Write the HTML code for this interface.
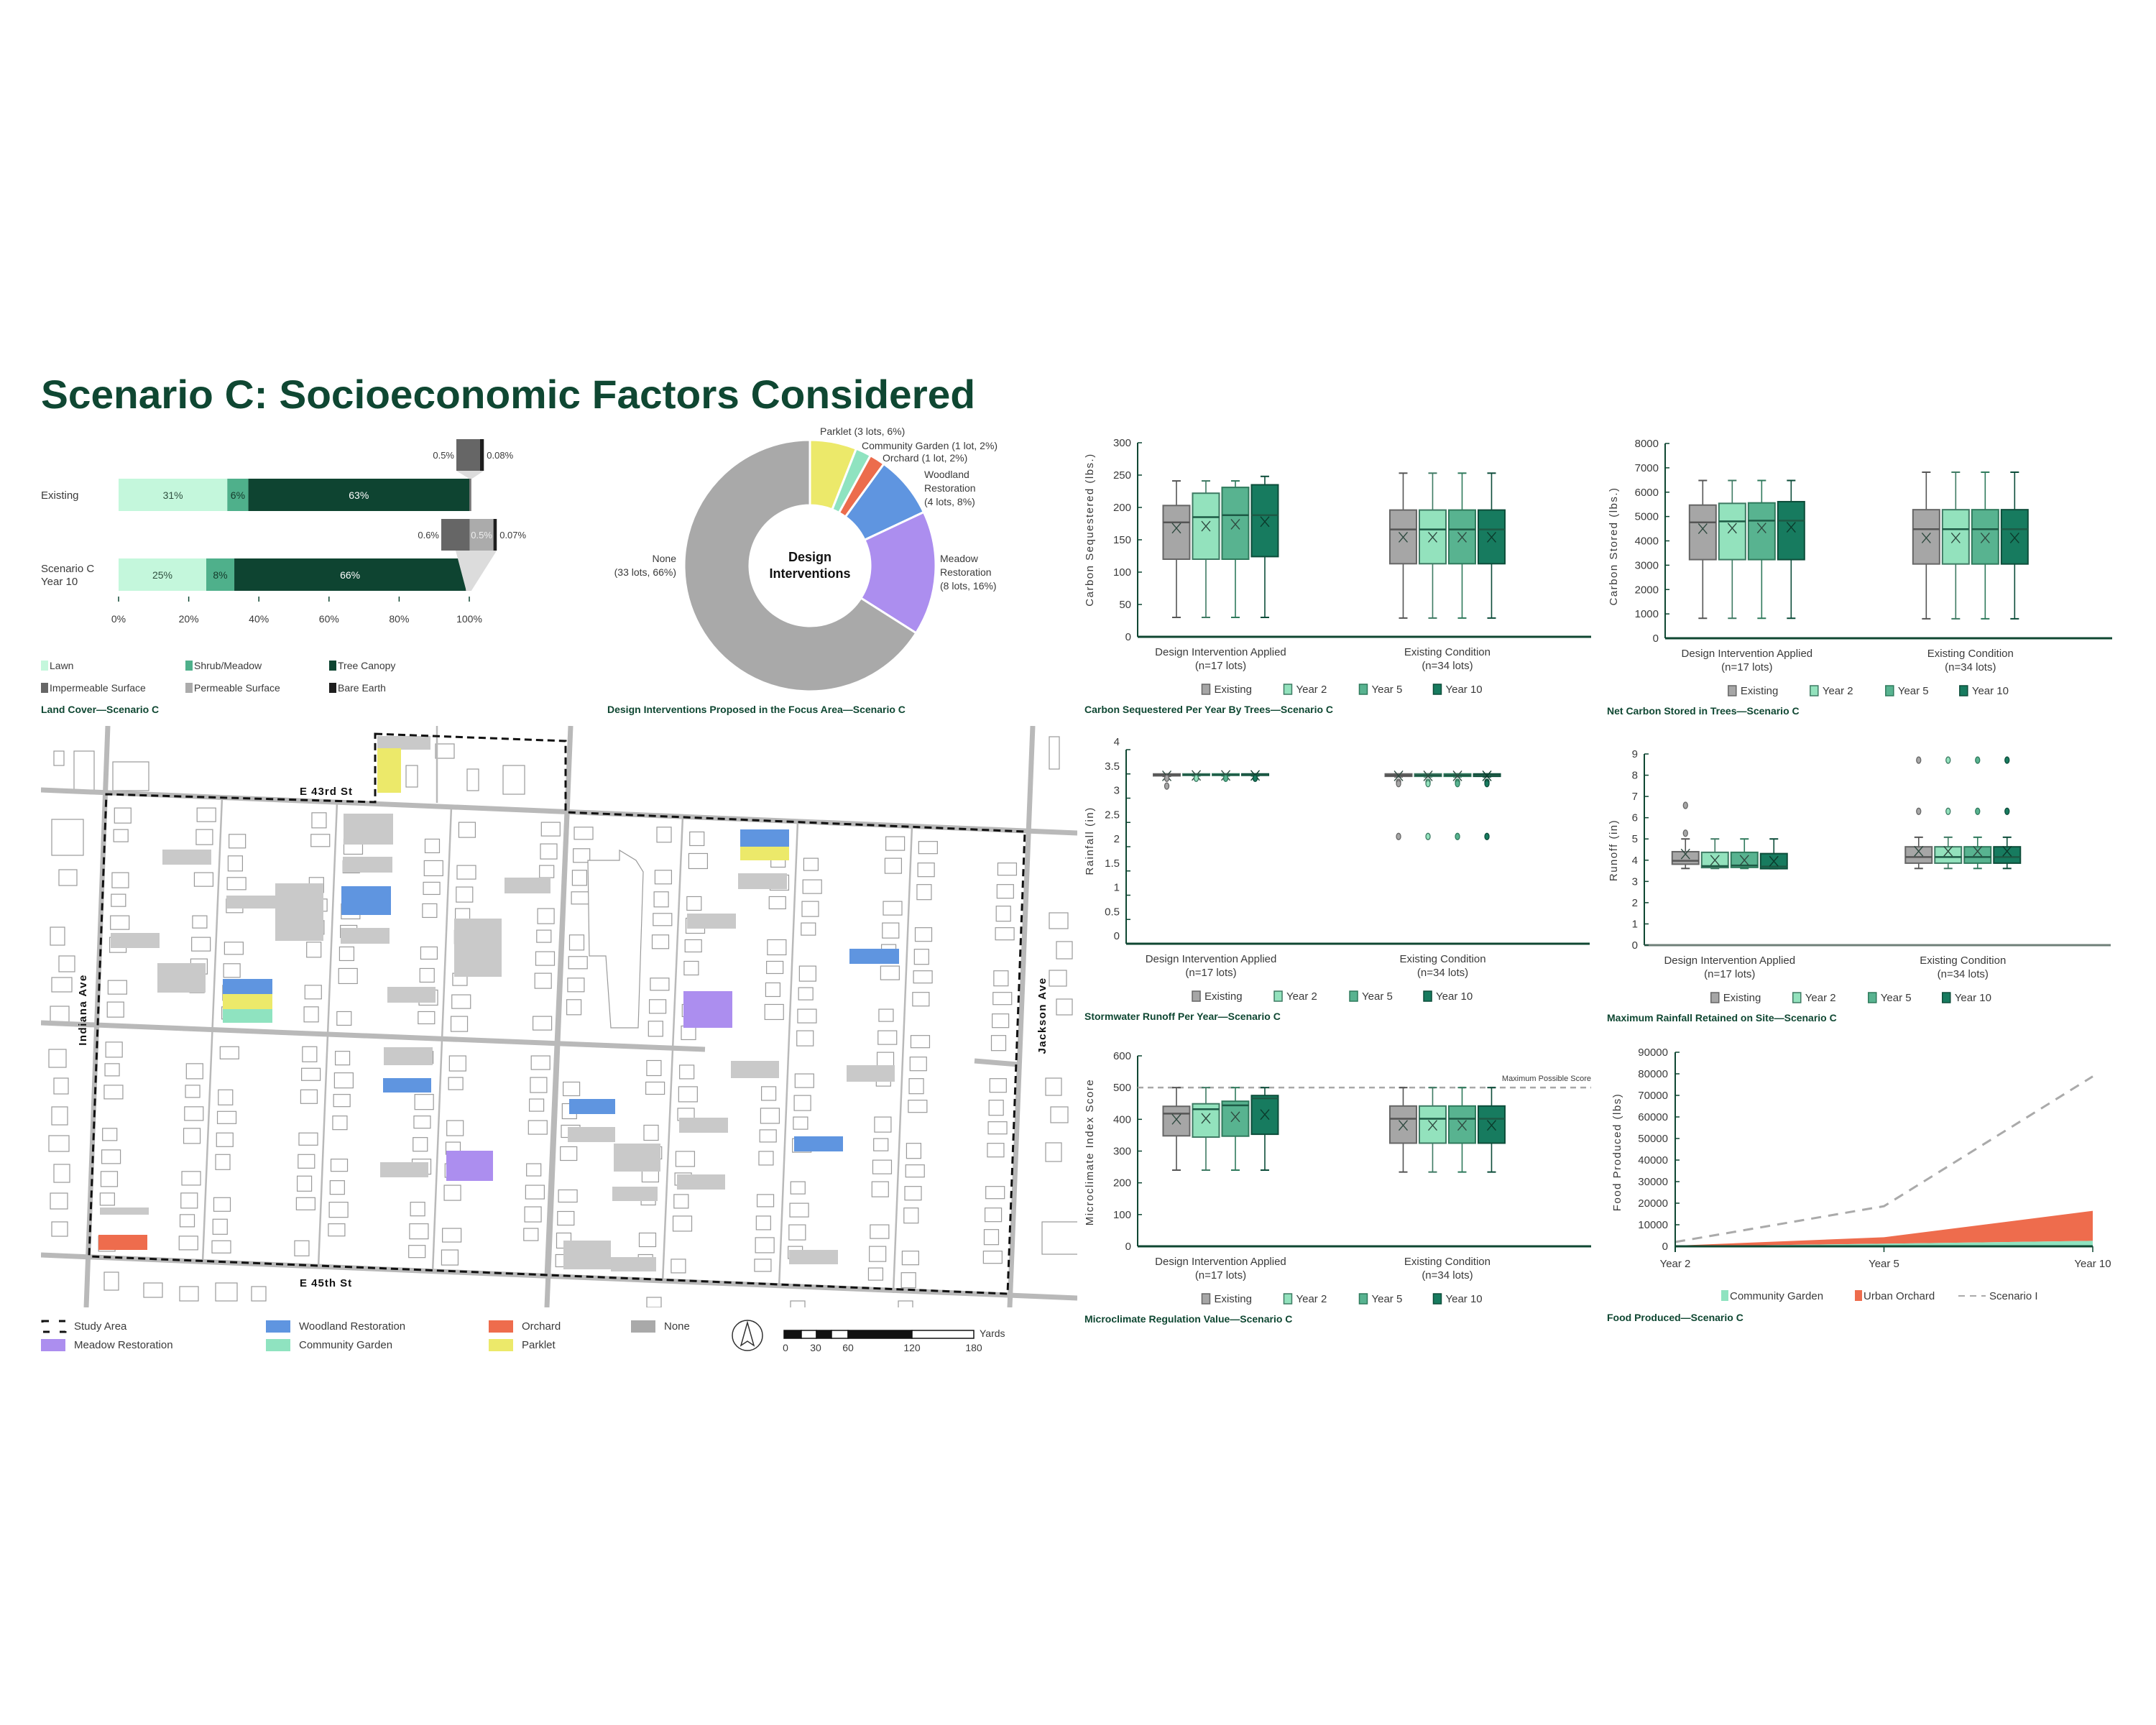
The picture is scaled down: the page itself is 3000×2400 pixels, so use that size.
<!DOCTYPE html>
<html><head><meta charset="utf-8"><style>
html,body{margin:0;padding:0;background:#fff;}
svg{display:block;font-family:"Liberation Sans",sans-serif;}
</style></head><body>
<svg id="root" xmlns="http://www.w3.org/2000/svg" width="3000" height="2400" viewBox="0 0 3000 2400">
<rect x="0" y="0" width="3000" height="2400" fill="#ffffff"/>
<text x="57" y="568" font-size="56" font-weight="bold" fill="#0f4732" textLength="1300" lengthAdjust="spacingAndGlyphs">Scenario C: Socioeconomic Factors Considered</text>
<g id="map"></g>
</svg>
<script>
// ---------- DATA ----------
const lcRows = ["Existing", "Scenario C|Year 10"];
const lcLawn = [31, 25];
const lcShrub = [6, 8];
const lcCanopy = [63, 66];
const lcImperv = [0.5, 0.6];
const lcPerm = [0, 0.5];
const lcBare = [0.08, 0.07];
const lcTicks = [0, 20, 40, 60, 80, 100];

const diNames = ["Parklet", "Community Garden", "Orchard", "Woodland Restoration", "Meadow Restoration", "None"];
const diLots = [3, 1, 1, 4, 8, 33];

const boxSeries = ["Existing", "Year 2", "Year 5", "Year 10"];
const boxGroups = ["Design Intervention Applied", "Existing Condition"];
const boxGroupN = ["(n=17 lots)", "(n=34 lots)"];

const csLow = [30, 30, 30, 30, 29, 29, 29, 29];
const csQ1 = [120, 120, 120, 124, 113, 113, 113, 113];
const csMed = [177, 185, 188, 188, 166, 166, 166, 166];
const csQ3 = [203, 222, 231, 235, 196, 196, 196, 196];
const csHigh = [241, 241, 241, 248, 253, 253, 253, 253];
const csMean = [168, 171, 174, 178, 154, 154, 154, 154];
const csOut = [[], [], [], [], [], [], [], []];
const csTicks = [0, 50, 100, 150, 200, 250, 300];

const ncLow = [820, 820, 820, 820, 800, 800, 800, 800];
const ncQ1 = [3230, 3230, 3230, 3230, 3050, 3050, 3050, 3050];
const ncMed = [4760, 4800, 4830, 4830, 4480, 4480, 4480, 4480];
const ncQ3 = [5470, 5540, 5560, 5610, 5280, 5280, 5280, 5280];
const ncHigh = [6480, 6480, 6480, 6480, 6820, 6820, 6820, 6820];
const ncMean = [4500, 4520, 4530, 4560, 4120, 4120, 4120, 4120];
const ncOut = [[], [], [], [], [], [], [], []];
const ncTicks = [0, 1000, 2000, 3000, 4000, 5000, 6000, 7000, 8000];

const rfLow = [3.45, 3.46, 3.46, 3.46, 3.44, 3.44, 3.44, 3.44];
const rfQ1 = [3.46, 3.47, 3.47, 3.47, 3.45, 3.45, 3.45, 3.45];
const rfMed = [3.48, 3.48, 3.48, 3.48, 3.47, 3.47, 3.47, 3.47];
const rfQ3 = [3.5, 3.5, 3.5, 3.5, 3.5, 3.5, 3.5, 3.5];
const rfHigh = [3.5, 3.5, 3.5, 3.5, 3.5, 3.5, 3.5, 3.5];
const rfMean = [3.46, 3.47, 3.47, 3.47, 3.46, 3.46, 3.46, 3.46];
const rfOut = [[3.41, 3.25], [3.41], [3.41], [3.41], [3.33, 3.3, 2.21], [3.33, 3.3, 2.21], [3.33, 3.3, 2.21], [3.33, 3.3, 2.21]];
const rfTicks = [0, 0.5, 1, 1.5, 2, 2.5, 3, 3.5, 4];

const roLow = [3.61, 3.61, 3.61, 3.6, 3.61, 3.61, 3.61, 3.61];
const roQ1 = [3.81, 3.65, 3.66, 3.6, 3.86, 3.86, 3.86, 3.86];
const roMed = [3.97, 3.72, 3.75, 3.7, 4.15, 4.15, 4.15, 4.15];
const roQ3 = [4.4, 4.37, 4.37, 4.31, 4.63, 4.63, 4.63, 4.63];
const roHigh = [5.0, 5.0, 5.0, 5.0, 5.08, 5.08, 5.08, 5.08];
const roMean = [4.29, 4.0, 4.0, 3.95, 4.42, 4.42, 4.42, 4.42];
const roOut = [[5.27, 6.58], [], [], [], [6.3, 8.71], [6.3, 8.71], [6.3, 8.71], [6.3, 8.71]];
const roTicks = [0, 1, 2, 3, 4, 5, 6, 7, 8, 9];

const mcLow = [240, 240, 240, 240, 234, 234, 234, 234];
const mcQ1 = [348, 344, 347, 353, 325, 325, 325, 325];
const mcMed = [418, 432, 444, 466, 402, 402, 402, 402];
const mcQ3 = [441, 449, 457, 475, 442, 442, 442, 442];
const mcHigh = [500, 500, 500, 500, 500, 500, 500, 500];
const mcMean = [400, 403, 408, 415, 381, 381, 381, 381];
const mcOut = [[], [], [], [], [], [], [], []];
const mcTicks = [0, 100, 200, 300, 400, 500, 600];
const mcMaxScore = [500];

const foodYears = ["Year 2", "Year 5", "Year 10"];
const foodGarden = [0, 1200, 2550];
const foodOrchard = [300, 3000, 13900];
const foodScenarioI = [2000, 18600, 78800];
const foodTicks = [0, 10000, 20000, 30000, 40000, 50000, 60000, 70000, 80000, 90000];

// ---------- HELPERS ----------
const NS = 'http://www.w3.org/2000/svg';
const root = document.getElementById('root');
function mk(tag, attrs, parent) {
  const e = document.createElementNS(NS, tag);
  for (const k in attrs) e.setAttribute(k, attrs[k]);
  (parent || root).appendChild(e);
  return e;
}
function tx(x, y, s, attrs, parent) {
  const e = mk('text', Object.assign({ x: x, y: y }, attrs), parent);
  e.textContent = s;
  return e;
}
const DK = '#0f4732';
const LBL = '#3a3a3a';
const boxFill = ['#a6a6a6', '#93e2bd', '#58b390', '#177b5f'];
const boxStroke = ['#666666', '#3e7a63', '#2f7a5c', '#0d4d3a'];

// ---------- LAND COVER ----------
(function () {
  const g = mk('g', {});
  
  
  const x0 = 165, pw = 4.88, rowTop = [666, 777], h = 45;
  const insetX = [635, 614], insetTop = [611, 722], ih = 44, isc = 66;
  for (let r = 0; r < 2; r++) {
    const parts = lcRows[r].split('|');
    parts.forEach((p, i) => {
      const t = tx(57, rowTop[r] + 28 - (parts.length - 1) * 9 + i * 18, p, { 'font-size': 15, fill: LBL });
      
      
    });
    const segs = [[lcLawn[r], '#c4f7dc', '#2f4f3f', 'lawn'], [lcShrub[r], '#4fb08b', '#153a2b', 'shrub'], [lcCanopy[r], '#0e4431', '#ffffff', 'canopy']];
    let x = x0;
    segs.forEach(s => {
      const w = s[0] * pw;
      const rc = mk('rect', { x: x, y: rowTop[r], width: w, height: h, fill: s[1] }, g);
      
      
      const t = tx(x + w / 2, rowTop[r] + 28, s[0] + '%', { 'font-size': 14, fill: s[2], 'text-anchor': 'middle' }, g);
      
      
      x += w;
    });
    const small = lcImperv[r] + lcPerm[r] + lcBare[r];
    const sm = mk('rect', { x: x, y: rowTop[r], width: Math.max(2, small * pw), height: h, fill: '#777' }, g);
    
    
    const barEnd = x + small * pw;
    const ix = insetX[r], it = insetTop[r];
    const iw = (lcImperv[r] + lcPerm[r] + lcBare[r]) * isc;
    const poly = r === 0 ? [[ix, it + ih], [ix + iw, it + ih], [barEnd + 1, rowTop[r]], [barEnd - 3, rowTop[r]]]
                         : [[ix + 20, it + ih], [ix + iw, it + ih], [barEnd + 2, rowTop[r] + h], [barEnd - 5, rowTop[r] + h]];
    const cn = mk('polygon', { points: poly.map(p => p.join(',')).join(' '), fill: '#dcdcdc' }, g);
    
    
    let ixx = ix;
    [[lcImperv[r], '#666666', 'impermeable'], [lcPerm[r], '#ababab', 'permeable'], [lcBare[r], '#1e1e1e', 'bare-earth']].forEach(s => {
      if (s[0] <= 0) return;
      const w = Math.max(4, s[0] * isc);
      const rc = mk('rect', { x: ixx, y: it, width: w, height: ih, fill: s[1] }, g);
      
      
      ixx += w;
    });
    const l1 = tx(ix - 3, it + 27, lcImperv[r] + '%', { 'font-size': 13, fill: LBL, 'text-anchor': 'end' }, g);
    
    
    if (lcPerm[r] > 0) {
      const l2 = tx(ix + lcImperv[r] * isc + lcPerm[r] * isc / 2, it + 27, lcPerm[r] + '%', { 'font-size': 13, fill: '#eeeeee', 'text-anchor': 'middle' }, g);
      
      
    }
    const l3 = tx(ixx + 4, it + 27, lcBare[r] + '%', { 'font-size': 13, fill: LBL }, g);
    
    
  }
  lcTicks.forEach(v => {
    const x = x0 + v * pw;
    const tk = mk('line', { x1: x, y1: 830, x2: x, y2: 837, stroke: DK, 'stroke-width': 1.5 }, g);
    
    
    const t = tx(x, 866, v + '%', { 'font-size': 14, fill: LBL, 'text-anchor': 'middle' }, g);
    
    
  });
  const leg = [['Lawn', '#c4f7dc', 57, 926], ['Shrub/Meadow', '#4fb08b', 258, 926], ['Tree Canopy', '#0e4431', 458, 926],
               ['Impermeable Surface', '#666666', 57, 957], ['Permeable Surface', '#ababab', 258, 957], ['Bare Earth', '#1e1e1e', 458, 957]];
  leg.forEach(l => {
    const s = mk('rect', { x: l[2], y: l[3] - 7, width: 10, height: 14, fill: l[1] }, g);
    
    
    const t = tx(l[2] + 12, l[3] + 5, l[0], { 'font-size': 14, fill: LBL }, g);
    
    
  });
  const c = tx(57, 992, 'Land Cover—Scenario C', { 'font-size': 14, 'font-weight': 'bold', fill: DK }, g);
  
  
})();

// ---------- DONUT ----------
(function () {
  const g = mk('g', {});
  
  
  const cx = 1127, cy = 787, R = 175, r = 84;
  const cols = ['#ece96a', '#8fe3c0', '#ec6c4c', '#5f95e0', '#ac8eef', '#a9a9a9'];
  const total = diLots.reduce((a, b) => a + b, 0);
  let a = -Math.PI / 2;
  diLots.forEach((v, i) => {
    const a2 = a + v / total * Math.PI * 2;
    const large = (a2 - a) > Math.PI ? 1 : 0;
    const p = [
      'M', cx + R * Math.cos(a), cy + R * Math.sin(a),
      'A', R, R, 0, large, 1, cx + R * Math.cos(a2), cy + R * Math.sin(a2),
      'L', cx + r * Math.cos(a2), cy + r * Math.sin(a2),
      'A', r, r, 0, large, 0, cx + r * Math.cos(a), cy + r * Math.sin(a), 'Z'].join(' ');
    const s = mk('path', { d: p, fill: cols[i], stroke: '#ffffff', 'stroke-width': 3 }, g);
    
    
    a = a2;
  });
  const pct = i => Math.round(diLots[i] / total * 100);
  const lot = i => diLots[i] + (diLots[i] === 1 ? ' lot, ' : ' lots, ') + pct(i) + '%';
  const labels = [
    [1141, 605, ['Parklet (' + lot(0) + ')'], 'start'],
    [1199, 625, ['Community Garden (' + lot(1) + ')'], 'start'],
    [1228, 642, ['Orchard (' + lot(2) + ')'], 'start'],
    [1286, 665, ['Woodland', 'Restoration', '(' + lot(3) + ')'], 'start'],
    [1308, 782, ['Meadow', 'Restoration', '(' + lot(4) + ')'], 'start'],
    [941, 782, ['None', '(' + lot(5) + ')'], 'end']];
  labels.forEach(l => {
    l[2].forEach((s, k) => {
      const t = tx(l[0], l[1] + k * 19, s, { 'font-size': 14, fill: LBL, 'text-anchor': l[3] }, g);
      
      
    });
  });
  const c1 = tx(cx, 781, 'Design', { 'font-size': 18, 'font-weight': 'bold', fill: '#111', 'text-anchor': 'middle' }, g);
  
  
  const c2 = tx(cx, 804, 'Interventions', { 'font-size': 18, 'font-weight': 'bold', fill: '#111', 'text-anchor': 'middle' }, g);
  
  
  const cap = tx(845, 992, 'Design Interventions Proposed in the Focus Area—Scenario C', { 'font-size': 14, 'font-weight': 'bold', fill: DK }, g);
  
  
})();

// ---------- BOX CHARTS ----------
function boxChart(o) {
  const g = mk('g', {});
  
  
  const max = o.ticks[o.ticks.length - 1];
  const Y = v => o.y0 - v / max * (o.y0 - o.yt);
  const W = o.x1 - o.x0;
  const mids = [o.x0 + W * 0.183, o.x0 + W * 0.683];
  const ya = mk('line', { x1: o.x0, y1: o.yt, x2: o.x0, y2: o.y0, stroke: DK, 'stroke-width': 2 }, g);
  
  
  const xa = mk('line', { x1: o.x0, y1: o.y0, x2: o.x1, y2: o.y0, stroke: o.xAxisColor || DK, 'stroke-width': 3 }, g);
  
  
  o.ticks.forEach(v => {
    const y = Y(v);
    const tk = mk('line', { x1: o.x0, y1: y, x2: o.x0 + 6, y2: y, stroke: DK, 'stroke-width': 1.5 }, g);
    
    
    const t = tx(o.x0 - 9, y + 5 + (o.labelOff || 0), String(v), { 'font-size': 15, fill: LBL, 'text-anchor': 'end' }, g);
    
    
  });
  const at = tx(0, 0, o.yTitle, { 'font-size': 15, fill: LBL, 'text-anchor': 'middle', 'letter-spacing': 1.5, transform: 'translate(' + o.titleX + ',' + o.titleY + ') rotate(-90)' }, g);
  
  
  if (o.refLine) {
    const yy = Y(o.refLine[0]);
    const rl = mk('line', { x1: o.x0, y1: yy, x2: o.x1, y2: yy, stroke: '#a8a8a8', 'stroke-width': 2.5, 'stroke-dasharray': '8,6' }, g);
    
    
    const rt = tx(o.x1, yy - 9, 'Maximum Possible Score', { 'font-size': 11, fill: LBL, 'text-anchor': 'end' }, g);
    
    
  }
  for (let i = 0; i < 8; i++) {
    const gi = Math.floor(i / 4), si = i % 4;
    const cx = mids[gi] + (si - 1.5) * 41;
    const bw = 37;
    const wc = si === 0 ? '#555' : boxStroke[si];
    const wl = mk('line', { x1: cx, y1: Y(o.low[i]), x2: cx, y2: Y(o.high[i]), stroke: wc, 'stroke-width': 1.6 }, g);
    
    
    [o.low[i], o.high[i]].forEach(v => {
      const cp = mk('line', { x1: cx - 6, y1: Y(v), x2: cx + 6, y2: Y(v), stroke: wc, 'stroke-width': 2 }, g);
      
      
    });
    const yq3 = Y(o.q3[i]), yq1 = Y(o.q1[i]);
    const bx = mk('rect', { x: cx - bw / 2, y: yq3, width: bw, height: Math.max(2, yq1 - yq3), fill: boxFill[si], stroke: boxStroke[si], 'stroke-width': 2 }, g);
    
    
    const md = mk('line', { x1: cx - bw / 2, y1: Y(o.med[i]), x2: cx + bw / 2, y2: Y(o.med[i]), stroke: si === 0 ? '#555' : '#1d5a45', 'stroke-width': 2.5 }, g);
    
    
    const my = Y(o.mean[i]);
    const xs = si === 3 ? '#0b3a2b' : '#2f4a40';
    const m1 = mk('path', { d: 'M' + (cx - 6) + ' ' + (my - 7) + ' L' + (cx + 6) + ' ' + (my + 7) + ' M' + (cx + 6) + ' ' + (my - 7) + ' L' + (cx - 6) + ' ' + (my + 7), stroke: xs, 'stroke-width': 1.4, fill: 'none' }, g);
    
    
    o.out[i].forEach(v => {
      const oc = mk('ellipse', { cx: cx, cy: Y(v), rx: 3, ry: 4.5, fill: boxFill[si], stroke: boxStroke[si], 'stroke-width': 1.3 }, g);
      
      
    });
  }
  boxGroups.forEach((gname, gi) => {
    const t1 = tx(mids[gi], o.y0 + 26, gname, { 'font-size': 15, fill: LBL, 'text-anchor': 'middle' }, g);
    
    
    const t2 = tx(mids[gi], o.y0 + 45, boxGroupN[gi], { 'font-size': 15, fill: LBL, 'text-anchor': 'middle' }, g);
    
    
  });
  const lo = [-26, 88, 193, 296];
  boxSeries.forEach((s, si) => {
    const lx = mids[0] + lo[si];
    const sw = mk('rect', { x: lx, y: o.y0 + 66, width: 11, height: 14, fill: boxFill[si], stroke: boxStroke[si], 'stroke-width': 1.5 }, g);
    
    
    const t = tx(lx + 17, o.y0 + 78, s, { 'font-size': 15, fill: LBL }, g);
    
    
  });
  const cap = tx(o.capX, o.y0 + 106, o.caption, { 'font-size': 14, 'font-weight': 'bold', fill: DK }, g);
  
  
}
boxChart({ name: 'carbon-sequestered-chart', x0: 1583, x1: 2214, y0: 886, yt: 616, ticks: csTicks, low: csLow, q1: csQ1, med: csMed, q3: csQ3, high: csHigh, mean: csMean, out: csOut, yTitle: 'Carbon Sequestered (lbs.)', titleX: 1521, titleY: 737, caption: 'Carbon Sequestered Per Year By Trees—Scenario C', capX: 1509 });
boxChart({ name: 'net-carbon-stored-chart', x0: 2317, x1: 2939, y0: 888, yt: 617, ticks: ncTicks, low: ncLow, q1: ncQ1, med: ncMed, q3: ncQ3, high: ncHigh, mean: ncMean, out: ncOut, yTitle: 'Carbon Stored (lbs.)', titleX: 2250, titleY: 760, caption: 'Net Carbon Stored in Trees—Scenario C', capX: 2236 });
boxChart({ name: 'stormwater-runoff-chart', x0: 1567, x1: 2212, y0: 1313, yt: 1043, ticks: rfTicks, labelOff: -11, low: rfLow, q1: rfQ1, med: rfMed, q3: rfQ3, high: rfHigh, mean: rfMean, out: rfOut, yTitle: 'Rainfall (in)', titleX: 1521, titleY: 1170, caption: 'Stormwater Runoff Per Year—Scenario C', capX: 1509 });
boxChart({ name: 'max-rainfall-retained-chart', x0: 2288, x1: 2937, y0: 1315, yt: 1049, ticks: roTicks, low: roLow, q1: roQ1, med: roMed, q3: roQ3, high: roHigh, mean: roMean, out: roOut, yTitle: 'Runoff (in)', titleX: 2250, titleY: 1183, caption: 'Maximum Rainfall Retained on Site—Scenario C', capX: 2236, xAxisColor: '#6f7f78' });
boxChart({ name: 'microclimate-regulation-chart', x0: 1583, x1: 2214, y0: 1734, yt: 1469, ticks: mcTicks, low: mcLow, q1: mcQ1, med: mcMed, q3: mcQ3, high: mcHigh, mean: mcMean, out: mcOut, refLine: mcMaxScore, yTitle: 'Microclimate Index Score', titleX: 1521, titleY: 1603, caption: 'Microclimate Regulation Value—Scenario C', capX: 1509 });

// ---------- FOOD CHART ----------
(function () {
  const g = mk('g', {});
  
  
  const x0 = 2331, x1 = 2912, y0 = 1734, yt = 1464;
  const max = foodTicks[foodTicks.length - 1];
  const Y = v => y0 - v / max * (y0 - yt);
  const X = i => x0 + i * (x1 - x0) / (foodYears.length - 1);
  foodTicks.forEach(v => {
    const tk = mk('line', { x1: x0, y1: Y(v), x2: x0 + 6, y2: Y(v), stroke: DK, 'stroke-width': 1.5 }, g);
    
    
    const t = tx(x0 - 10, Y(v) + 5, String(v), { 'font-size': 15, fill: LBL, 'text-anchor': 'end' }, g);
    
    
  });
  const orchPts = [], gardPts = [];
  foodYears.forEach((yr, i) => {
    orchPts.push(X(i) + ',' + Y(foodGarden[i] + foodOrchard[i]));
    gardPts.push(X(i) + ',' + Y(foodGarden[i]));
  });
  const orch = mk('polygon', { points: orchPts.join(' ') + ' ' + gardPts.slice().reverse().join(' '), fill: '#ee6c4d' }, g);
  
  
  const gard = mk('polygon', { points: gardPts.join(' ') + ' ' + X(foodYears.length - 1) + ',' + y0 + ' ' + X(0) + ',' + y0, fill: '#8fe3c0' }, g);
  
  
  const sPts = foodScenarioI.map((v, i) => X(i) + ',' + Y(v)).join(' ');
  const sl = mk('polyline', { points: sPts, fill: 'none', stroke: '#aaaaaa', 'stroke-width': 3, 'stroke-dasharray': '14,10' }, g);
  
  
  const ya = mk('line', { x1: x0, y1: yt, x2: x0, y2: y0 + 8, stroke: DK, 'stroke-width': 2 }, g);
  
  
  const xa = mk('line', { x1: x0, y1: y0, x2: x1, y2: y0, stroke: DK, 'stroke-width': 3 }, g);
  
  
  foodYears.forEach((yr, i) => {
    const tk = mk('line', { x1: X(i), y1: y0, x2: X(i), y2: y0 + 8, stroke: DK, 'stroke-width': 1.5 }, g);
    
    
    const t = tx(X(i), y0 + 29, yr, { 'font-size': 15, fill: LBL, 'text-anchor': 'middle' }, g);
    
    
  });
  const at = tx(0, 0, 'Food Produced (lbs)', { 'font-size': 15, fill: LBL, 'text-anchor': 'middle', 'letter-spacing': 1.5, transform: 'translate(2255,1603) rotate(-90)' }, g);
  
  
  const l1 = mk('rect', { x: 2395, y: 1795, width: 10, height: 15, fill: '#8fe3c0' }, g);
  
  
  const t1 = tx(2407, 1808, 'Community Garden', { 'font-size': 15, fill: LBL }, g);
  
  
  const l2 = mk('rect', { x: 2581, y: 1795, width: 10, height: 15, fill: '#ee6c4d' }, g);
  
  
  const t2 = tx(2593, 1808, 'Urban Orchard', { 'font-size': 15, fill: LBL }, g);
  
  
  const l3 = mk('line', { x1: 2725, y1: 1803, x2: 2763, y2: 1803, stroke: '#aaaaaa', 'stroke-width': 2, 'stroke-dasharray': '9,7' }, g);
  
  
  const t3 = tx(2768, 1808, 'Scenario I', { 'font-size': 15, fill: LBL }, g);
  
  
  const cap = tx(2236, 1838, 'Food Produced—Scenario C', { 'font-size': 14, 'font-weight': 'bold', fill: DK }, g);
  
  
})();

// ---------- MAP ----------
(function () {
  const map = document.getElementById('map');
  const clip = mk('clipPath', { id: 'mapclip' }, map);
  mk('rect', { x: 57, y: 1010, width: 1442, height: 809 }, clip);
  const g = mk('g', { 'clip-path': 'url(#mapclip)' }, map);
  
  
  const st43 = x => 1099 + (x - 57) * 0.0416;
  const stMid = x => 1423 + (x - 57) * 0.04;
  const st45 = x => 1746 + (x - 57) * 0.0446;
  const linesTop = [148, 309, 469, 628, 789, 950, 1110, 1269, 1426];
  const linesBot = [124, 282, 443, 602, 761, 922, 1084, 1243, 1402];
  const lx = (i, y) => linesTop[i] + (linesBot[i] - linesTop[i]) * (y - 1105) / (1750 - 1105);
  for (let c = 0; c < 8; c++) {
    const blocks = [];
    const xm = (linesTop[c] + linesTop[c + 1]) / 2;
    if (c < 6) { blocks.push([st43(xm) + 18, stMid(xm) - 14]); blocks.push([stMid(xm) + 20, st45(xm) - 14]); }
    else blocks.push([st43(xm) + 18, st45(xm) - 14]);
    blocks.forEach((b, bi) => {
      let k = 0;
      for (let y = b[0]; y < b[1] - 18; y += 30) {
        [0, 1].forEach(side => {
          k++;
          if ((k * 7 + c * 3 + bi) % 5 === 0) return;
          const xl = side === 0 ? lx(c, y) + 12 : lx(c + 1, y) - 34;
          const w = 20 + ((k + c) % 3) * 3, h = 17 + ((k * 2 + c) % 3) * 2;
          const r = mk('rect', { x: xl, y: y, width: w, height: h, fill: '#fff', stroke: '#9a9a9a', 'stroke-width': 1.2 }, g);
          
          
        });
      }
    });
  }
  const outside = [[75, 1045, 14, 20], [103, 1045, 28, 58], [157, 1060, 50, 40], [72, 1140, 44, 50], [565, 1065, 16, 30], [606, 1035, 26, 20], [650, 1070, 16, 30], [700, 1065, 30, 40], [1460, 1025, 14, 45],
    [82, 1210, 25, 22], [70, 1290, 20, 25], [82, 1330, 22, 22], [72, 1360, 28, 20], [70, 1400, 26, 22], [68, 1460, 24, 25], [75, 1500, 20, 22], [72, 1540, 22, 25], [68, 1580, 28, 22], [75, 1620, 22, 25], [70, 1660, 24, 22], [72, 1700, 22, 20],
    [1460, 1270, 26, 22], [1470, 1310, 22, 24], [1460, 1350, 24, 22], [1470, 1390, 22, 22], [1455, 1500, 22, 24], [1462, 1540, 24, 22], [1455, 1590, 22, 26], [1450, 1700, 50, 45],
    [145, 1770, 20, 25], [200, 1785, 26, 20], [250, 1790, 26, 20], [300, 1785, 30, 25], [350, 1790, 20, 20], [900, 1805, 20, 14], [1100, 1810, 20, 10], [1250, 1810, 20, 10]];
  outside.forEach(o => {
    const r = mk('rect', { x: o[0], y: o[1], width: o[2], height: o[3], fill: '#fff', stroke: '#9a9a9a', 'stroke-width': 1.2 }, g);
    
    
  });
  const church = mk('polygon', { points: '818,1197 862,1197 862,1183 885,1197 895,1213 888,1430 850,1430 843,1330 820,1330', fill: '#fff', stroke: '#9a9a9a', 'stroke-width': 1.2 }, g);
  
  
  const grey = [[525, 1024, 74, 19], [226, 1182, 68, 21], [154, 1298, 68, 21], [219, 1340, 67, 41], [383, 1229, 67, 80], [315, 1246, 68, 18], [478, 1132, 69, 43], [477, 1192, 69, 22], [474, 1291, 68, 22],
    [539, 1373, 67, 22], [702, 1221, 64, 22], [632, 1278, 66, 81], [956, 1271, 68, 21], [1027, 1215, 68, 22], [534, 1457, 68, 25], [1017, 1476, 67, 24], [1178, 1482, 67, 23], [945, 1555, 68, 21],
    [790, 1568, 66, 21], [854, 1591, 65, 39], [942, 1634, 67, 21], [852, 1651, 63, 20], [529, 1617, 67, 21], [139, 1680, 68, 10], [784, 1726, 66, 40], [850, 1749, 63, 20], [1098, 1739, 68, 20]];
  grey.forEach(o => {
    const r = mk('rect', { x: o[0], y: o[1], width: o[2], height: o[3], fill: '#c9c9c9' }, g);
    
    
  });
  const col = { park: '#ece96a', wood: '#5f95e0', garden: '#8fe3c0', orch: '#ee6c4d', mead: '#ac8eef' };
  const lots = [['park', 525, 1041, 33, 62], ['wood', 1030, 1154, 68, 24], ['park', 1030, 1178, 68, 19], ['wood', 475, 1233, 69, 40], ['wood', 310, 1362, 69, 21], ['park', 310, 1383, 69, 21],
    ['garden', 310, 1404, 69, 19], ['mead', 951, 1379, 68, 51], ['wood', 1182, 1320, 69, 21], ['wood', 533, 1500, 67, 20], ['wood', 792, 1529, 64, 21], ['wood', 1105, 1581, 68, 21], ['mead', 621, 1601, 65, 42], ['orch', 137, 1718, 68, 21]];
  lots.forEach(o => {
    const r = mk('rect', { x: o[1], y: o[2], width: o[3], height: o[4], fill: col[o[0]] }, g);
    
    
  });
  for (let i = 1; i < 8; i++) {
    const l = mk('line', { x1: linesTop[i], y1: st43(linesTop[i]), x2: linesBot[i], y2: st45(linesBot[i]), stroke: '#b9b9b9', 'stroke-width': i === 4 ? 7 : 2.5 }, g);
    
    
  }
  const roads = [[150, 1010, 120, 1819], [794, 1010, 761, 1819], [1437, 1010, 1405, 1819], [608, 1010, 608, 1117],
    [57, 1099, 1499, 1159], [57, 1423, 981, 1460], [1356, 1476, 1416, 1481], [57, 1746, 1499, 1806]];
  roads.forEach(r => {
    const l = mk('line', { x1: r[0], y1: r[1], x2: r[2], y2: r[3], stroke: '#b9b9b9', 'stroke-width': r[0] === 608 ? 2.5 : 7 }, g);
    
    
  });
  const bd = mk('polygon', { points: '522,1021 787,1031 787,1130 1426,1157 1402,1800 124,1748 148,1105 522,1116', fill: 'none', stroke: '#111', 'stroke-width': 3, 'stroke-dasharray': '10,6' }, g);
  
  
  const sl = [[417, 1106, 'E 43rd St'], [417, 1790, 'E 45th St']];
  sl.forEach(s => {
    const t = tx(s[0], s[1], s[2], { 'font-size': 15, 'font-weight': 'bold', fill: '#111', 'letter-spacing': 1 }, g);
    
    
  });
  const ia = tx(0, 0, 'Indiana Ave', { 'font-size': 15, 'font-weight': 'bold', fill: '#111', 'text-anchor': 'middle', 'letter-spacing': 1.5, transform: 'translate(120,1405) rotate(-90)' }, g);
  
  
  const ja = tx(0, 0, 'Jackson Ave', { 'font-size': 15, 'font-weight': 'bold', fill: '#111', 'text-anchor': 'middle', 'letter-spacing': 1.5, transform: 'translate(1455,1413) rotate(-90)' }, g);
  
  
  const sa = mk('rect', { x: 59, y: 1838, width: 32, height: 15, fill: 'none', stroke: '#111', 'stroke-width': 3, 'stroke-dasharray': '9,14' }, map);
  
  
  const legs = [['Study Area', null, 57, 1845], ['Meadow Restoration', col.mead, 57, 1871], ['Woodland Restoration', col.wood, 370, 1845], ['Community Garden', col.garden, 370, 1871],
    ['Orchard', col.orch, 680, 1845], ['Parklet', col.park, 680, 1871], ['None', '#a9a9a9', 878, 1845]];
  legs.forEach(l => {
    if (l[1]) {
      const s = mk('rect', { x: l[2], y: l[3] - 8, width: 34, height: 17, fill: l[1] }, map);
      
      
    }
    const t = tx(l[2] + 46, l[3] + 5, l[0], { 'font-size': 15, fill: LBL }, map);
    
    
  });
  const na = mk('circle', { cx: 1040, cy: 1858, r: 21, fill: 'none', stroke: '#333', 'stroke-width': 1.5 }, map);
  
  
  const nap = mk('path', { d: 'M1040 1840 L1031 1872 L1040 1866 L1049 1872 Z', fill: 'none', stroke: '#333', 'stroke-width': 1.5 }, map);
  
  
  const sb = [[1091, 1115, '#111'], [1115, 1136, '#fff'], [1136, 1157, '#111'], [1157, 1180, '#fff'], [1180, 1269, '#111'], [1269, 1355, '#fff']];
  sb.forEach(s => {
    const r = mk('rect', { x: s[0], y: 1851, width: s[1] - s[0], height: 11, fill: s[2], stroke: '#111', 'stroke-width': 1.5 }, map);
    
    
  });
  const yd = tx(1363, 1860, 'Yards', { 'font-size': 14, fill: LBL }, map);
  
  
  [[1093, '0'], [1135, '30'], [1180, '60'], [1269, '120'], [1355, '180']].forEach(s => {
    const t = tx(s[0], 1880, s[1], { 'font-size': 14, fill: LBL, 'text-anchor': 'middle' }, map);
    
    
  });
})();
</script>
</body></html>
